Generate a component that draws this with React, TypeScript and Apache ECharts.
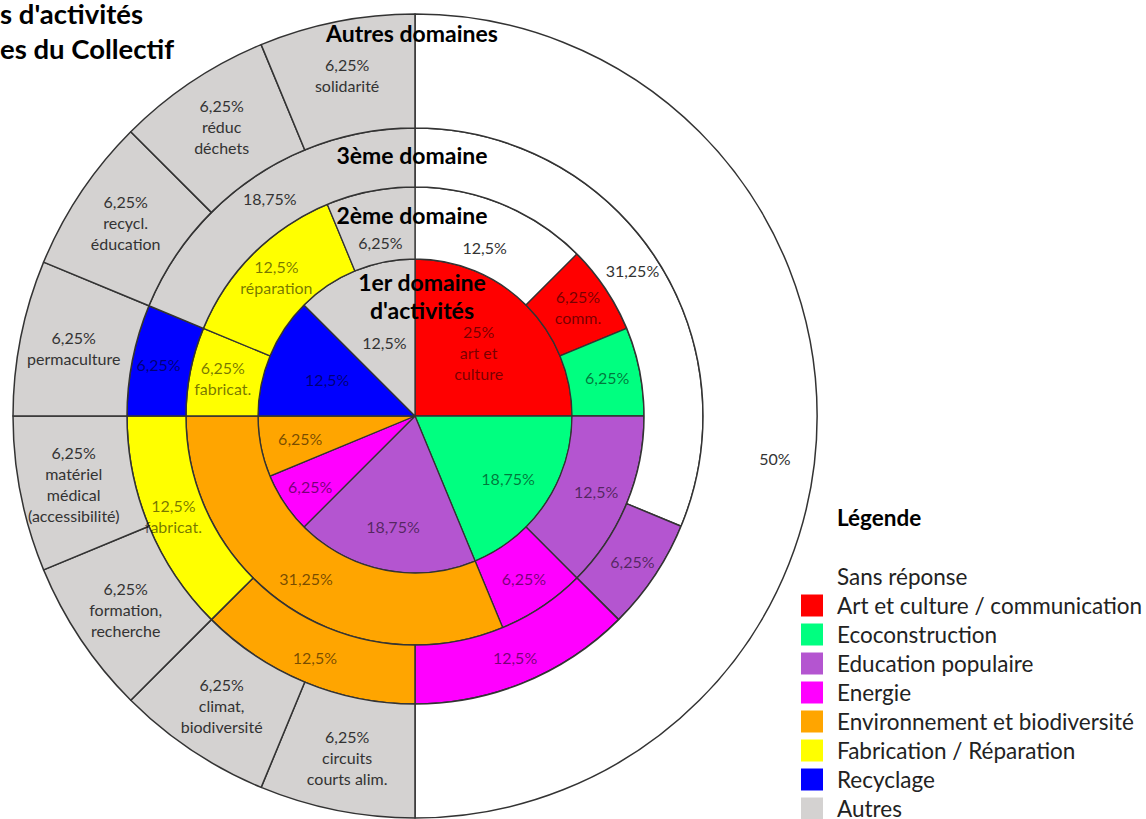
import React, { useEffect, useRef } from 'react';
import * as echarts from 'echarts';

const CATEGORIES = [
  'Sans réponse',
  'Art et culture / communication',
  'Ecoconstruction',
  'Education populaire',
  'Energie',
  'Environnement et biodiversité',
  'Fabrication / Réparation',
  'Recyclage',
  'Autres',
];
const CATEGORY_COLORS = ['#FFFFFF', '#FF0000', '#00FF80', '#B455D0', '#FF00FF', '#FFA500', '#FFFF00', '#0000FF', '#D4D2D1'];

// 1er domaine d'activités (inner ring), clockwise from 12 o'clock
const RING1_CATS = ['Art et culture / communication', 'Ecoconstruction', 'Education populaire', 'Energie', 'Environnement et biodiversité', 'Recyclage', 'Autres'];
const RING1_VALUES = [25, 18.75, 18.75, 6.25, 6.25, 12.5, 12.5];
const RING1_NOTES = ['art et\nculture', '', '', '', '', '', ''];

// 2ème domaine
const RING2_CATS = ['Sans réponse', 'Art et culture / communication', 'Ecoconstruction', 'Education populaire', 'Energie', 'Environnement et biodiversité', 'Fabrication / Réparation', 'Fabrication / Réparation', 'Autres'];
const RING2_VALUES = [12.5, 6.25, 6.25, 12.5, 6.25, 31.25, 6.25, 12.5, 6.25];
const RING2_NOTES = ['', 'comm.', '', '', '', '', 'fabricat.', 'réparation', ''];

// 3ème domaine
const RING3_CATS = ['Sans réponse', 'Education populaire', 'Energie', 'Environnement et biodiversité', 'Fabrication / Réparation', 'Recyclage', 'Autres'];
const RING3_VALUES = [31.25, 6.25, 12.5, 12.5, 12.5, 6.25, 18.75];
const RING3_NOTES = ['', '', '', '', 'fabricat.', '', ''];

// Autres domaines (outer ring)
const RING4_CATS = ['Sans réponse', 'Autres', 'Autres', 'Autres', 'Autres', 'Autres', 'Autres', 'Autres', 'Autres'];
const RING4_VALUES = [50, 6.25, 6.25, 6.25, 6.25, 6.25, 6.25, 6.25, 6.25];
const RING4_NOTES = ['', 'circuits\ncourts alim.', 'climat,\nbiodiversité', 'formation,\nrecherche', 'matériel\nmédical\n(accessibilité)', 'permaculture', 'recycl.\néducation', 'réduc\ndéchets', 'solidarité'];

const RING_TITLES = ['1er domaine\nd\'activités', '2ème domaine', '3ème domaine', 'Autres domaines'];
const TITLE_LINES = ['s d\'activités', 'es du Collectif'];
const LEGEND_TITLE = 'Légende';

// label placement (distance of a label from the centre, px); null = middle of the ring
const RING1_LABEL_DIST = [90, 112, 113, 126, 117, 95, 80];
const RING2_LABEL_DIST = [182, null, null, null, null, null, null, null, 177];

const FONT = 'Lato, "Open Sans", sans-serif';
const CX = 415;
const CY = 416;

const fmt = (v: number) => String(v).replace('.', ',') + '%';
const colorOf = (c: string) => CATEGORY_COLORS[CATEGORIES.indexOf(c)];
const labelColorOf = (c: string) => (c === 'Sans réponse' || c === 'Autres' ? '#333333' : 'rgba(0,0,0,0.55)');

function ringData(cats: string[], values: number[], notes: string[]) {
  return values.map((v, i) => ({
    name: cats[i],
    value: v,
    note: notes[i],
    itemStyle: { color: colorOf(cats[i]) },
    label: { color: labelColorOf(cats[i]) },
  }));
}

const radialLayout = (dist: (number | null)[]) => (p: any) => {
  const R = dist[p.dataIndex];
  if (R == null || !p.labelRect) return {};
  const r = p.labelRect;
  const vx = r.x + r.width / 2 - CX;
  const vy = r.y + r.height / 2 - CY;
  const d = Math.hypot(vx, vy) || 1;
  return { dx: (vx / d) * (R - d), dy: (vy / d) * (R - d) };
};

export default function App() {
  const ref = useRef<HTMLDivElement>(null);

  useEffect(() => {
    if (!ref.current) return;
    const chart = echarts.init(ref.current, null, { renderer: 'svg' });

    const base: any = {
      type: 'pie',
      center: [CX, CY],
      startAngle: 90,
      clockwise: true,
      avoidLabelOverlap: false,
      emphasis: { disabled: true },
      labelLine: { show: false },
      label: {
        show: true,
        position: 'inside',
        formatter: (p: any) => fmt(p.value) + (p.data.note ? '\n' + p.data.note : ''),
        fontFamily: FONT,
        fontSize: 16,
        lineHeight: 21,
      },
      itemStyle: { borderColor: '#333333', borderWidth: 1.3 },
    };

    const option: any = {
      animation: false,
      backgroundColor: '#ffffff',
      legend: {
        orient: 'vertical',
        left: 796,
        top: 560,
        height: 300,
        itemWidth: 22,
        itemHeight: 22,
        itemGap: 6,
        icon: 'rect',
        selectedMode: false,
        data: CATEGORIES,
        itemStyle: { borderWidth: 0 },
        textStyle: { fontFamily: FONT, fontSize: 22.5, lineHeight: 22, color: '#222222', padding: [0, 0, 0, 9] },
      },
      series: [
        { ...base, radius: [0, 157], data: ringData(RING1_CATS, RING1_VALUES, RING1_NOTES), labelLayout: radialLayout(RING1_LABEL_DIST) },
        { ...base, radius: [157, 229], data: ringData(RING2_CATS, RING2_VALUES, RING2_NOTES), labelLayout: radialLayout(RING2_LABEL_DIST) },
        { ...base, radius: [229, 288], data: ringData(RING3_CATS, RING3_VALUES, RING3_NOTES), itemStyle: { borderColor: '#333333', borderWidth: 1.5 } },
        {
          ...base,
          radius: [288, 402],
          data: ringData(RING4_CATS, RING4_VALUES, RING4_NOTES),
          itemStyle: { borderColor: '#333333', borderWidth: 1.5 },
          labelLayout: (p: any) => (p.dataIndex === 0 ? { dx: 12, dy: 42 } : {}),
        },
      ],
      graphic: [
        ...TITLE_LINES.map((t, i) => ({
          type: 'text',
          x: 0,
          y: 13 + i * 35,
          style: { text: t, font: `bold 27.5px ${FONT}`, fill: '#000', textAlign: 'left', align: 'left', textVerticalAlign: 'middle', verticalAlign: 'middle' },
        })),
        ...[
          { t: RING_TITLES[3], x: 412, y: 33 },
          { t: RING_TITLES[2], x: 412, y: 155 },
          { t: RING_TITLES[1], x: 412, y: 215 },
          { t: RING_TITLES[0], x: 422, y: 296 },
        ].map((d) => ({
          type: 'text',
          x: d.x,
          y: d.y,
          z: 100,
          style: { text: d.t, font: `bold 23px ${FONT}`, lineHeight: 28, fill: '#000', textAlign: 'center', align: 'center', textVerticalAlign: 'middle', verticalAlign: 'middle' },
        })),
        {
          type: 'text',
          x: 837,
          y: 517,
          style: { text: LEGEND_TITLE, font: `bold 22.5px ${FONT}`, fill: '#000', textAlign: 'left', align: 'left', textVerticalAlign: 'middle', verticalAlign: 'middle' },
        },
      ],
    };

    chart.setOption(option);
    return () => chart.dispose();
  }, []);

  return <div ref={ref} style={{ position: 'fixed', left: 0, top: 0, width: 1146, height: 819 }} />;
}
